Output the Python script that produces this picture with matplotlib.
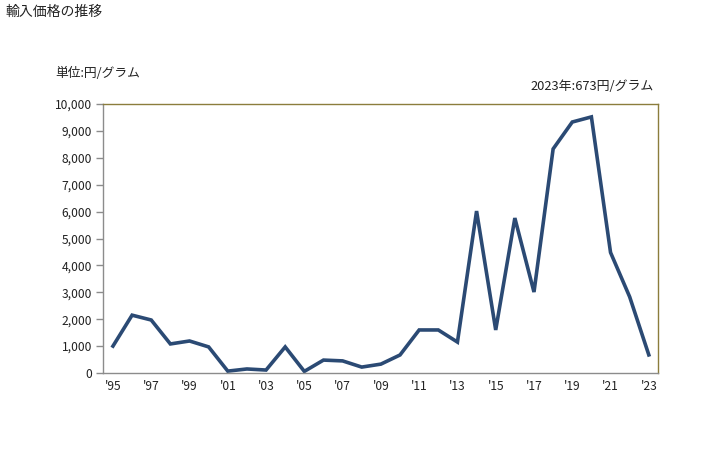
import matplotlib
matplotlib.use("Agg")
import matplotlib.pyplot as plt
from matplotlib.ticker import FuncFormatter

plt.rcParams['font.family'] = ['Noto Sans CJK JP', 'DejaVu Sans']

years = list(range(1995, 2024))
values = [1000, 2150, 1970, 1080, 1190, 970, 70, 150, 110, 970, 60, 480, 450, 220,
          330, 670, 1600, 1600, 1150, 6020, 1600, 5760, 3010, 8330, 9330, 9520,
          4480, 2830, 673]
xtick_years = list(range(1995, 2024, 2))
xtick_labels = ["'" + str(y)[2:] for y in xtick_years]

fig = plt.figure(figsize=(7.28, 4.5), dpi=100)
ax = fig.add_axes([103/728, 77/450, 555/728, 269/450])

ax.plot(years, values, color='#2B4A74', linewidth=2.6, solid_joinstyle='miter')

ax.set_xlim(1994.48, 2023.48)
ax.set_ylim(0, 10000)
ax.set_yticks(range(0, 10001, 1000))
ax.yaxis.set_major_formatter(FuncFormatter(lambda v, p: f"{int(v):,}"))
ax.set_xticks(xtick_years)
ax.set_xticklabels(xtick_labels)

for s in ['left', 'bottom']:
    ax.spines[s].set_color('#8C8C8C')
    ax.spines[s].set_linewidth(1.0)
for s in ['top', 'right']:
    ax.spines[s].set_color('#8B7D3C')
    ax.spines[s].set_linewidth(1.0)

ax.tick_params(axis='y', direction='out', length=5, width=1, color='#8C8C8C',
               labelsize=8.7, pad=3, labelcolor='#222222')
ax.tick_params(axis='x', length=0, labelsize=8.7, pad=5, labelcolor='#222222')

fig.text(5/728, 1 - 12/450, '輸入価格の推移', fontsize=10, va='center', ha='left', color='#222222')
fig.text(55/728, 1 - 73/450, '単位:円/グラム', fontsize=9.2, va='center', ha='left', color='#222222')
fig.text(654/728, 1 - 86/450, '2023年:673円/グラム', fontsize=9.3, va='center', ha='right', color='#222222')

fig.savefig('out.png', dpi=100)
